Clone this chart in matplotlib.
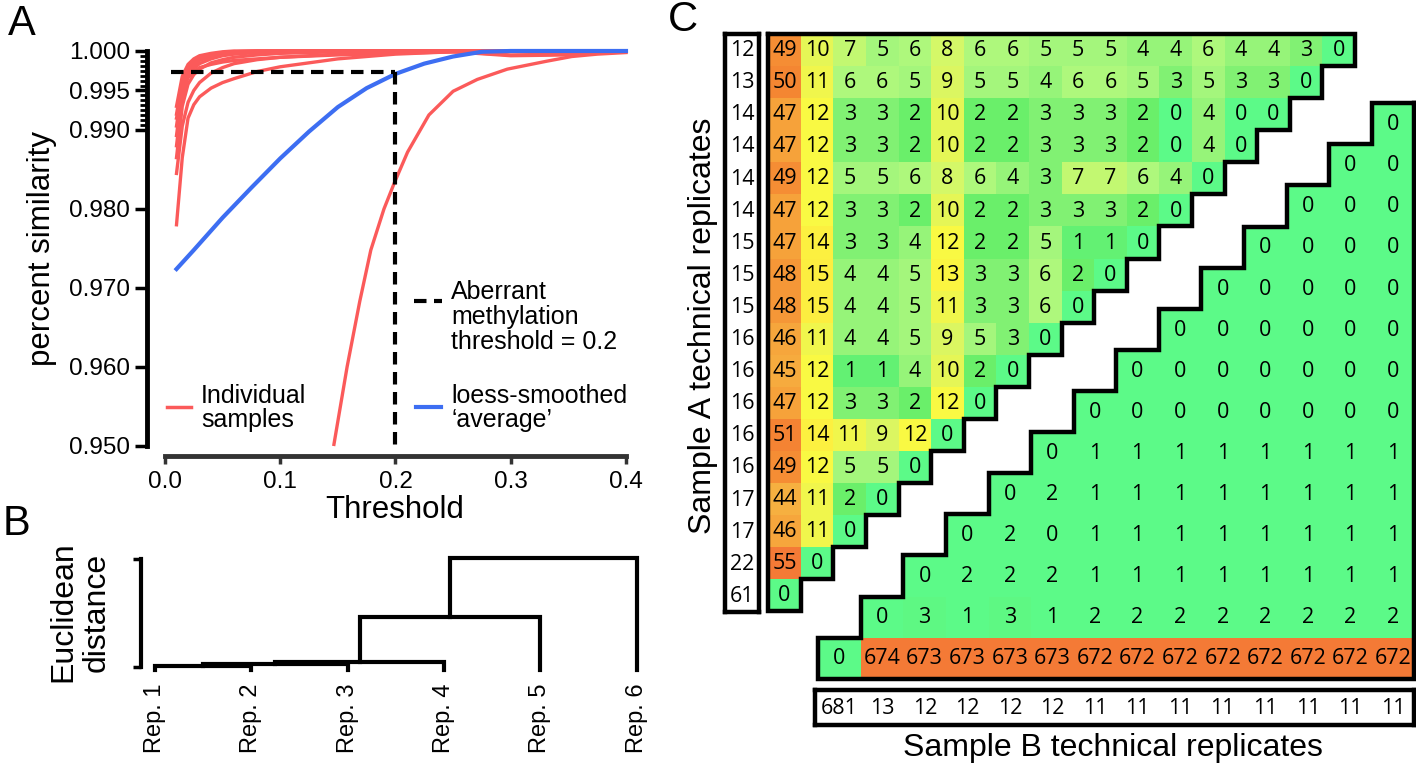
import numpy as np
import matplotlib
matplotlib.use('Agg')
import matplotlib.pyplot as plt
from matplotlib.colors import LinearSegmentedColormap, Normalize

W, H = 1416, 769
plt.rcParams['font.family'] = ['Liberation Sans', 'DejaVu Sans']

# ---------------- Panel A data ----------------
thr_grid = [0.01, 0.015, 0.02, 0.025, 0.03, 0.04, 0.05, 0.06, 0.08, 0.10, 0.15, 0.20, 0.25, 0.30, 0.35, 0.40]
sample_1 = [0.9780, 0.9865, 0.9915, 0.9932, 0.9942, 0.9953, 0.9960, 0.9965, 0.9974, 0.9980, 0.9990, 0.9996, 0.9999, 1.0000, 1.0000, 1.0000]
sample_2 = [0.9845, 0.9905, 0.9935, 0.9950, 0.9960, 0.9972, 0.9979, 0.9984, 0.9989, 0.9992, 0.9996, 0.9998, 0.9999, 0.9995, 0.9996, 0.9999]
sample_3 = [0.9865, 0.9930, 0.9958, 0.9970, 0.9977, 0.9985, 0.9989, 0.9992, 0.9995, 0.9997, 0.9999, 1.0000, 1.0000, 1.0000, 1.0000, 1.0000]
sample_4 = [0.9880, 0.9942, 0.9968, 0.9978, 0.9984, 0.9990, 0.9994, 0.9996, 0.9998, 0.9999, 1.0000, 1.0000, 1.0000, 1.0000, 1.0000, 1.0000]
sample_5 = [0.9893, 0.9950, 0.9973, 0.9982, 0.9988, 0.9993, 0.9996, 0.9998, 0.9999, 1.0000, 1.0000, 1.0000, 1.0000, 1.0000, 1.0000, 1.0000]
sample_6 = [0.9905, 0.9955, 0.9976, 0.9985, 0.9990, 0.9995, 0.9997, 0.9999, 1.0000, 1.0000, 1.0000, 1.0000, 1.0000, 1.0000, 1.0000, 1.0000]
sample_7 = [0.9915, 0.9950, 0.9966, 0.9974, 0.9979, 0.9983, 0.9986, 0.9988, 0.9990, 0.9992, 0.9995, 0.9997, 0.9999, 0.9994, 0.9995, 0.9999]
sample_8 = [0.9920, 0.9962, 0.9980, 0.9987, 0.9992, 0.9996, 0.9998, 0.9999, 1.0000, 1.0000, 1.0000, 1.0000, 1.0000, 1.0000, 1.0000, 1.0000]
sample_9 = [0.9930, 0.9968, 0.9983, 0.9990, 0.9994, 0.9997, 0.9999, 1.0000, 1.0000, 1.0000, 1.0000, 1.0000, 1.0000, 1.0000, 1.0000, 1.0000]
individual_samples = [sample_1, sample_2, sample_3, sample_4, sample_5, sample_6, sample_7, sample_8, sample_9]
outlier_thr = [0.1466, 0.158, 0.169, 0.1786, 0.19, 0.199, 0.2105, 0.229, 0.25, 0.271, 0.297, 0.331, 0.353, 0.375, 0.40]
outlier_sim = [0.9502, 0.9600, 0.9683, 0.9748, 0.9800, 0.9833, 0.9872, 0.9919, 0.9949, 0.9964, 0.9977, 0.9987, 0.9993, 0.9996, 0.9998]
loess_thr = [0.01, 0.025, 0.05, 0.075, 0.10, 0.125, 0.15, 0.175, 0.20, 0.225, 0.25, 0.275, 0.30, 0.35, 0.40]
loess_sim = [0.9724, 0.9748, 0.9789, 0.9827, 0.9864, 0.9898, 0.9929, 0.9953, 0.9971, 0.9984, 0.9993, 0.9999, 1.0000, 1.0000, 1.0000]
cutoff_thr = 0.2
cutoff_sim = 0.9973
a_major_ticks = [0.950, 0.960, 0.970, 0.980, 0.990, 0.995, 1.000]
a_major_labels = ['0.950', '0.960', '0.970', '0.980', '0.990', '0.995', '1.000']
a_x_ticks = [0.0, 0.1, 0.2, 0.3, 0.4]
a_x_labels = ['0.0', '0.1', '0.2', '0.3', '0.4']

# ---------------- Panel B data ----------------
rep_labels = ['Rep. 1', 'Rep. 2', 'Rep. 3', 'Rep. 4', 'Rep. 5', 'Rep. 6']
merge_pairs = [(0, 1), (6, 2), (7, 3), (8, 4), (9, 5)]   # leaves 0-5, clusters 6+
merge_heights = [0.009, 0.025, 0.044, 0.46, 1.009]

# ---------------- Panel C data ----------------
sampleA_totals = [12, 13, 14, 14, 14, 14, 15, 15, 15, 16, 16, 16, 16, 16, 17, 17, 22, 61]
sampleA_rows = [
    [49, 10, 7, 5, 6, 8, 6, 6, 5, 5, 5, 4, 4, 6, 4, 4, 3, 0],
    [50, 11, 6, 6, 5, 9, 5, 5, 4, 6, 6, 5, 3, 5, 3, 3, 0],
    [47, 12, 3, 3, 2, 10, 2, 2, 3, 3, 3, 2, 0, 4, 0, 0],
    [47, 12, 3, 3, 2, 10, 2, 2, 3, 3, 3, 2, 0, 4, 0],
    [49, 12, 5, 5, 6, 8, 6, 4, 3, 7, 7, 6, 4, 0],
    [47, 12, 3, 3, 2, 10, 2, 2, 3, 3, 3, 2, 0],
    [47, 14, 3, 3, 4, 12, 2, 2, 5, 1, 1, 0],
    [48, 15, 4, 4, 5, 13, 3, 3, 6, 2, 0],
    [48, 15, 4, 4, 5, 11, 3, 3, 6, 0],
    [46, 11, 4, 4, 5, 9, 5, 3, 0],
    [45, 12, 1, 1, 4, 10, 2, 0],
    [47, 12, 3, 3, 2, 12, 0],
    [51, 14, 11, 9, 12, 0],
    [49, 12, 5, 5, 0],
    [44, 11, 2, 0],
    [46, 11, 0],
    [55, 0],
    [0],
]
sampleB_totals = [681, 13, 12, 12, 12, 12, 11, 11, 11, 11, 11, 11, 11, 11]
sampleB_rows = [
    [0],
    [0, 0],
    [0, 0, 0],
    [0, 0, 0, 0],
    [0, 0, 0, 0, 0],
    [0, 0, 0, 0, 0, 0],
    [0, 0, 0, 0, 0, 0, 0],
    [0, 0, 0, 0, 0, 0, 0, 0],
    [0, 1, 1, 1, 1, 1, 1, 1, 1],
    [0, 2, 1, 1, 1, 1, 1, 1, 1, 1],
    [0, 2, 0, 1, 1, 1, 1, 1, 1, 1, 1],
    [0, 2, 2, 2, 1, 1, 1, 1, 1, 1, 1, 1],
    [0, 3, 1, 3, 1, 2, 2, 2, 2, 2, 2, 2, 2],
    [0, 674, 673, 673, 673, 673, 672, 672, 672, 672, 672, 672, 672, 672],
]

# ---------------- helpers ----------------
fig = plt.figure(figsize=(W / 100, H / 100), dpi=100)


def fx(px):
    return px / W


def fy(py):
    return 1 - py / H


def ax_at(l, t, r, b):
    return fig.add_axes([l / W, 1 - b / H, (r - l) / W, (b - t) / H])


RED = '#fb5a5a'
BLUE = '#3d6ef2'

# ================= Panel A =================
axA = ax_at(147, 40, 645, 456)
axA.set_xlim(-0.0156, 0.4165)
axA.set_ylim(0.94873, 1.00139)
for s in individual_samples:
    axA.plot(thr_grid, s, color=RED, lw=2.4, zorder=2, clip_on=False)
axA.plot(outlier_thr, outlier_sim, color=RED, lw=2.4, zorder=2)
axA.plot(loess_thr, loess_sim, color=BLUE, lw=3.0, zorder=3, clip_on=False)
axA.plot([0.005, cutoff_thr], [cutoff_sim, cutoff_sim], color='black', lw=3,
         ls=(0, (3, 1.8)), zorder=4)
axA.plot([cutoff_thr, cutoff_thr], [cutoff_sim, 0.95], color='black', lw=3,
         ls=(0, (3, 1.8)), zorder=4)

for sp in ['top', 'right']:
    axA.spines[sp].set_visible(False)
axA.spines['left'].set_bounds(0.95, 1.0)
axA.spines['left'].set_linewidth(3.5)
axA.spines['bottom'].set_bounds(0.0, 0.4)
axA.spines['bottom'].set_linewidth(3.5)
axA.spines['bottom'].set_color('#333333')
axA.set_yticks(a_major_ticks)
axA.set_yticklabels(a_major_labels)
axA.set_yticks(np.linspace(0.99, 1.0, 17), minor=True)
axA.set_xticks(a_x_ticks)
axA.set_xticklabels(a_x_labels)
axA.tick_params(axis='y', which='major', length=9, width=2.5, labelsize=17.5, pad=3)
axA.tick_params(axis='y', which='minor', length=5, width=2)
axA.tick_params(axis='x', which='major', length=6, width=2.5, labelsize=17.5, pad=5, color='#333333')
axA.patch.set_alpha(0)

fig.text(fx(395), fy(510), 'Threshold', ha='center', va='center', fontsize=22.5)
fig.text(fx(42), fy(248), 'percent similarity', ha='center', va='center', rotation=90, fontsize=22.5)


def legline(x0, x1, y, **kw):
    fig.add_artist(plt.Line2D([fx(x0), fx(x1)], [fy(y), fy(y)], transform=fig.transFigure, **kw))


legline(167, 191, 407, color=RED, lw=2.5)
fig.text(fx(201), fy(408), 'Individual\nsamples', ha='left', va='center', fontsize=18, linespacing=1.05)
legline(416, 441, 407, color=BLUE, lw=3)
fig.text(fx(451), fy(408), 'loess-smoothed\n\u2018average\u2019', ha='left', va='center', fontsize=18, linespacing=1.05)
legline(414, 442, 301, color='black', lw=3, ls=(0, (3, 1.8)))
fig.text(fx(451), fy(317), 'Aberrant\nmethylation\nthreshold = 0.2', ha='left', va='center', fontsize=18, linespacing=1.05)

# panel letters
fig.text(fx(22), fy(24), 'A', ha='center', va='center', fontsize=30)
fig.text(fx(17), fy(524), 'B', ha='center', va='center', fontsize=30)
fig.text(fx(683), fy(20), 'C', ha='center', va='center', fontsize=30)

# ================= Panel B =================
axB = ax_at(141, 550, 650, 672)
axB.set_xlim(0.8546, 6.139)
axB.set_ylim(-0.046, 1.080)
leaf_base = -0.025
node_x = {i: i + 1.0 for i in range(len(rep_labels))}
node_h = {i: leaf_base for i in range(len(rep_labels))}
for k, ((a, b), h) in enumerate(zip(merge_pairs, merge_heights)):
    nid = len(rep_labels) + k
    xa, xb = node_x[a], node_x[b]
    axB.plot([xa, xa, xb, xb], [node_h[a], h, h, node_h[b]], color='black', lw=3,
             solid_joinstyle='miter', clip_on=False)
    node_x[nid] = (xa + xb) / 2
    node_h[nid] = h
for sp in ['top', 'right', 'bottom']:
    axB.spines[sp].set_visible(False)
axB.spines['left'].set_bounds(0, 1)
axB.spines['left'].set_linewidth(3)
axB.set_yticks([0, 1])
axB.set_yticklabels(['', ''])
axB.tick_params(axis='y', length=6, width=2.5)
axB.set_xticks(range(1, len(rep_labels) + 1))
axB.set_xticklabels(rep_labels, rotation=90, fontsize=17)
axB.tick_params(axis='x', length=0, pad=8)
axB.patch.set_alpha(0)
fig.text(fx(80), fy(612), 'Euclidean\ndistance', ha='center', va='center', rotation=90,
         fontsize=23, linespacing=1.1)

# ================= Panel C =================
nodes = [(0, '#5cfa88'), (1, '#64f070'), (2, '#6aef6a'), (3, '#86f275'), (4, '#98f47a'),
         (5, '#a4f67c'), (6, '#b0f87c'), (7, '#c4f870'), (8, '#d4f868'), (9, '#dcf660'),
         (10, '#e6f655'), (11, '#f0f64c'), (12, '#fafa42'), (14, '#fcf040'), (30, '#f9d044'),
         (44, '#f6b040'), (47, '#f6a23a'), (49, '#f58e34'), (50, '#f48632'), (55, '#f47a36')]
cmap = LinearSegmentedColormap.from_list('heat', [(v / 55, c) for v, c in nodes])
NUMFONT = ['Open Sans', 'DejaVu Sans']
NUMSIZE = 15.5

# --- Sample A triangle
nA = len(sampleA_rows)
matA = np.ma.masked_all((nA, nA))
for i, row in enumerate(sampleA_rows):
    for j, v in enumerate(row):
        matA[i, j] = v
hA = ax_at(768.2, 34, 1355.0, 611.3)
hA.pcolormesh(np.arange(nA + 1), np.arange(nA + 1), matA, cmap=cmap,
              norm=Normalize(0, 55), shading='flat')
hA.set_xlim(0, nA)
hA.set_ylim(nA, 0)
hA.axis('off')
for i, row in enumerate(sampleA_rows):
    for j, v in enumerate(row):
        hA.text(j + 0.5, i + 0.52, str(v), ha='center', va='center', fontsize=NUMSIZE, family=NUMFONT)
pts = [(0, 0)]
for i, row in enumerate(sampleA_rows):
    pts += [(len(row), i), (len(row), i + 1)]
pts += [(0, nA), (0, 0)]
px_, py_ = zip(*pts)
hA.plot(px_, py_, color='black', lw=3.2, clip_on=False, solid_joinstyle='miter')

lA = ax_at(725.3, 34, 759, 611.7)
lA.set_xlim(0, 1)
lA.set_ylim(nA, 0)
lA.set_xticks([])
lA.set_yticks([])
for sp in lA.spines.values():
    sp.set_linewidth(3.2)
for i, v in enumerate(sampleA_totals):
    lA.text(0.5, i + 0.52, str(v), ha='center', va='center', fontsize=NUMSIZE, family=NUMFONT)

# --- Sample B triangle
nB = len(sampleB_rows)
matB = np.ma.masked_all((nB, nB))
for i, row in enumerate(sampleB_rows):
    for j, v in enumerate(row):
        matB[i, nB - len(row) + j] = v
hB = ax_at(818.2, 103.3, 1414.3, 678.7)
hB.pcolormesh(np.arange(nB + 1), np.arange(nB + 1), matB, cmap=cmap,
              norm=Normalize(0, max(max(r) for r in sampleB_rows)), shading='flat')
hB.set_xlim(0, nB)
hB.set_ylim(nB, 0)
hB.axis('off')
for i, row in enumerate(sampleB_rows):
    for j, v in enumerate(row):
        hB.text(nB - len(row) + j + 0.5, i + 0.52, str(v), ha='center', va='center',
                fontsize=NUMSIZE, family=NUMFONT)
pts = [(nB, 0), (nB, nB)]
for i in range(nB - 1, -1, -1):
    left = nB - len(sampleB_rows[i])
    pts += [(left, i + 1), (left, i)]
pts.append((nB, 0))
px_, py_ = zip(*pts)
hB.plot(px_, py_, color='black', lw=3.2, clip_on=False, solid_joinstyle='miter')

lB = ax_at(815.4, 690, 1414.3, 725)
lB.set_xlim(-0.07, nB)
lB.set_ylim(0, 1)
lB.set_xticks([])
lB.set_yticks([])
for sp in lB.spines.values():
    sp.set_linewidth(3.2)
for j, v in enumerate(sampleB_totals):
    lB.text(j + 0.5, 0.48, str(v), ha='center', va='center', fontsize=NUMSIZE, family=NUMFONT)

fig.text(fx(1113), fy(748), 'Sample B technical replicates', ha='center', va='center', fontsize=23)
fig.text(fx(703), fy(326), 'Sample A technical replicates', ha='center', va='center',
         rotation=90, fontsize=23)

fig.savefig('out.png', dpi=100)
